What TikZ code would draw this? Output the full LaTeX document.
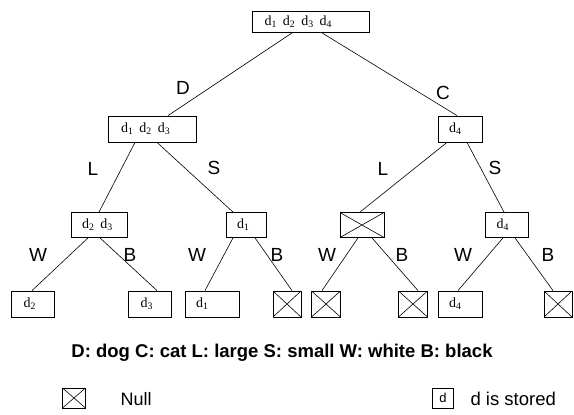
\documentclass[tikz,border=0pt]{standalone}
\usepackage{fontspec}
\setmainfont{Liberation Sans}
\newfontfamily\boxfont{Liberation Serif}

\tikzset{
  box/.style={draw, line width=0.8pt, minimum height=25pt, inner xsep=11pt, inner ysep=0pt,
    align=left, font=\boxfont\fontsize{14}{16}\selectfont},
  null/.style={draw, line width=0.8pt, minimum height=25pt, inner sep=0pt,
    path picture={\draw[line width=0.6pt] (path picture bounding box.north west) -- (path picture bounding box.south east)
      (path picture bounding box.south west) -- (path picture bounding box.north east);}},
  branch/.style={line width=0.6pt},
  lbl/.style={font=\fontsize{19}{22}\selectfont},
}
\newcommand{\dd}[1]{d\textsubscript{#1}}
\newcommand{\gap}{\hspace{6pt}}

\begin{document}
\begin{tikzpicture}[x=1pt,y=-1pt]
    \useasboundingbox (0,0) rectangle (574,415);

    % Raiz e primeiro nivel
    \node[box, text width=93pt, inner xsep=12pt, minimum height=21pt] (root) at (311,22) {\dd1\gap\dd2\gap\dd3\gap\dd4};
    \node[box, text width=62pt, inner xsep=13pt, minimum height=26pt] (dog) at (152,129) {\dd1\gap\dd2\gap\dd3};
    \node[box, text width=22pt, minimum height=26pt] (cat) at (460,129) {\dd4};

    % Segundo nivel
    \node[box, text width=34pt] (dogL) at (99,225) {\dd2\gap\dd3};
    \node[box, text width=18pt] (dogS) at (246,225) {\dd1};
    \node[null, minimum width=44pt] (catL) at (362,225) {};
    \node[box, text width=21pt] (catS) at (507,225) {\dd4};

    % Folhas
    \node[box, text width=19pt, inner xsep=12pt, minimum height=26pt] (dogLW) at (33,304) {\dd2};
    \node[box, text width=19pt, inner xsep=12pt, minimum height=26pt] (dogLB) at (150,304) {\dd3};
    \node[box, text width=32pt, minimum height=26pt] (dogSW) at (212,304) {\dd1};
    \node[null, minimum width=28pt, minimum height=26pt] (dogSB) at (287,304) {};
    \node[null, minimum width=29pt, minimum height=26pt] (catLW) at (326,304) {};
    \node[null, minimum width=29pt, minimum height=26pt] (catLB) at (413,304) {};
    \node[box, text width=22pt, minimum height=26pt] (catSW) at (460,304) {\dd4};
    \node[null, minimum width=28pt, minimum height=26pt] (catSB) at (558,304) {};

    % Arestas
    \draw[branch] ([xshift=-19pt]root.south) -- ([xshift=16pt]dog.north);
    \draw[branch] ([xshift=11pt]root.south) -- ([xshift=-3pt]cat.north);
    \draw[branch] ([xshift=-17pt]dog.south) -- (dogL.north);
    \draw[branch] ([xshift=5pt]dog.south) -- ([xshift=-13pt]dogS.north);
    \draw[branch] ([xshift=-13pt]cat.south) -- ([xshift=-2pt]catL.north);
    \draw[branch] ([xshift=7pt]cat.south) -- ([xshift=-3pt]catS.north);
    \draw[branch] ([xshift=-11pt]dogL.south) -- ([xshift=-1pt]dogLW.north);
    \draw[branch] ([xshift=1pt]dogL.south) -- ([xshift=7pt]dogLB.north);
    \draw[branch] ([xshift=-13pt]dogS.south) -- ([xshift=-7pt]dogSW.north);
    \draw[branch] ([xshift=9pt]dogS.south) -- ([xshift=5pt]dogSB.north);
    \draw[branch] ([xshift=-4pt]catL.south) -- ([xshift=-4pt]catLW.north);
    \draw[branch] ([xshift=10pt]catL.south) -- ([xshift=5pt]catLB.north);
    \draw[branch] ([xshift=-4pt]catS.south) -- ([xshift=-2pt]catSW.north);
    \draw[branch] ([xshift=8pt]catS.south) -- ([xshift=-5pt]catSB.north);

    % Rotulos das arestas
    \node[lbl] (tD) at (183,88) {D};
    \node[lbl] (tC) at (443,93) {C};
    \node[lbl] (tL1) at (93,169) {L};
    \node[lbl] (tS1) at (214,168) {S};
    \node[lbl] (tL2) at (383,169) {L};
    \node[lbl] (tS2) at (495,168) {S};
    \node[lbl] (tW1) at (38,255) {W};
    \node[lbl] (tB1) at (130,255) {B};
    \node[lbl] (tW2) at (197,255) {W};
    \node[lbl] (tB2) at (277,255) {B};
    \node[lbl] (tW3) at (327,255) {W};
    \node[lbl] (tB3) at (402,255) {B};
    \node[lbl] (tW4) at (463,255) {W};
    \node[lbl] (tB4) at (548,255) {B};

    % Legenda
    \node[font=\bfseries\fontsize{18.5}{22}\selectfont] (key) at (282,353) {D: dog C: cat L: large S: small W: white B: black};
    \node[null, minimum width=23pt, minimum height=20pt] (nullbox) at (74,398) {};
    \node[anchor=west, font=\fontsize{18}{22}\selectfont] (nulltxt) at (117,399) {Null};
    \node[draw, line width=0.8pt, minimum width=21pt, minimum height=20pt, inner sep=0pt,
      font=\fontsize{13}{15}\selectfont] (dbox) at (443,398) {d};
    \node[anchor=west, font=\fontsize{18.5}{22}\selectfont] (dtxt) at (467,399) {d is stored};
\end{tikzpicture}
\end{document}
